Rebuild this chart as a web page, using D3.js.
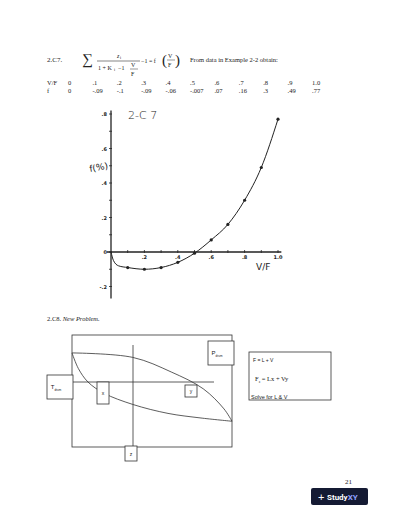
<!DOCTYPE html>
<html><head><meta charset="utf-8">
<script src="https://cdn.jsdelivr.net/npm/d3@7"></script>
<style>
body{margin:0;background:#fff}
svg{display:block}
text{font-family:"Liberation Serif",serif;fill:#222}
</style></head>
<body><svg id="page" width="400" height="518"></svg>
<script>
// Table values from "Example 2-2"
var vfLabels = ["0", ".1", ".2", ".3", ".4", ".5", ".6", ".7", ".8", ".9", "1.0"];
var fLabels = ["0", "-.09", "-.1", "-.09", "-.06", "-.007", ".07", ".16", ".3", ".49", ".77"];
var vfValues = [0, 0.1, 0.2, 0.3, 0.4, 0.5, 0.6, 0.7, 0.8, 0.9, 1.0];
var fValues = [0, -0.09, -0.1, -0.09, -0.06, -0.007, 0.07, 0.16, 0.3, 0.49, 0.77];
var yTickLabels = [-0.2, 0.2, 0.4, 0.6, 0.8];
var xTickLabels = [0.2, 0.4, 0.6, 0.8, 1.0];
// T-x-y sketch curves (fraction of box width, fraction of box height)
var dewCurve = [[0, 0.16], [0.38, 0.2], [0.62, 0.33], [0.82, 0.48], [0.95, 0.66], [1, 0.77]];
var bubbleCurve = [[0, 0.16], [0.04, 0.3], [0.1, 0.42], [0.2, 0.52], [0.38, 0.62], [0.6, 0.7], [0.8, 0.74], [1, 0.77]];
var notes = ["F = L + V", "Solve for L & V"];

var svg = d3.select("#page");

// ---- header line ----
svg.append("text").attr("x", 47).attr("y", 62).attr("font-size", 7).text("2.C7.");
svg.append("text").attr("x", 82).attr("y", 64).attr("font-size", 15).text("\u2211");
svg.append("text").attr("x", 117).attr("y", 58).attr("font-size", 6).attr("font-style", "italic").text("z");
svg.append("text").attr("x", 120).attr("y", 59).attr("font-size", 4).text("i");
svg.append("line").attr("x1", 97).attr("x2", 140).attr("y1", 61).attr("y2", 61).attr("stroke", "#333").attr("stroke-width", 0.6);
svg.append("text").attr("x", 98).attr("y", 70).attr("font-size", 6).text("1 +  K");
svg.append("text").attr("x", 114).attr("y", 71).attr("font-size", 4).text("i");
svg.append("text").attr("x", 118).attr("y", 70).attr("font-size", 6).text("\u22121");
svg.append("text").attr("x", 131).attr("y", 67).attr("font-size", 6).text("V");
svg.append("line").attr("x1", 130).attr("x2", 138).attr("y1", 69).attr("y2", 69).attr("stroke", "#333").attr("stroke-width", 0.5);
svg.append("text").attr("x", 131).attr("y", 76).attr("font-size", 6).text("F");
svg.append("text").attr("x", 141).attr("y", 63).attr("font-size", 6).text("\u22121 = f");
svg.append("text").attr("x", 162).attr("y", 65).attr("font-size", 15).attr("font-weight", 100).text("(");
svg.append("text").attr("x", 168).attr("y", 58).attr("font-size", 6).text("V");
svg.append("line").attr("x1", 167).attr("x2", 175).attr("y1", 60).attr("y2", 60).attr("stroke", "#333").attr("stroke-width", 0.5);
svg.append("text").attr("x", 168).attr("y", 67).attr("font-size", 6).text("F");
svg.append("text").attr("x", 175).attr("y", 65).attr("font-size", 15).attr("font-weight", 100).text(")");
svg.append("text").attr("x", 190).attr("y", 62).attr("font-size", 6.5).text("From data in Example 2-2 obtain:");

// ---- table ----
var colX = d3.scalePoint().domain(vfLabels).range([68, 312]);
var tbl = svg.append("g");
tbl.append("text").attr("x", 47).attr("y", 85).attr("font-size", 6.5).text("V/F");
tbl.append("text").attr("x", 47).attr("y", 93).attr("font-size", 6.5).text("f");
vfLabels.forEach(function (d, i) {
    tbl.append("text").attr("x", colX(d)).attr("y", 85).attr("font-size", 6.5).text(d);
    tbl.append("text").attr("x", colX(d)).attr("y", 93).attr("font-size", 6.5).text(fLabels[i]);
});

// ---- hand-drawn plot ----
var x = d3.scaleLinear().domain([0, 1]).range([111, 278]);
var y = d3.scaleLinear().domain([0, 0.8]).range([252, 114]);
var g = svg.append("g").attr("stroke", "#222").attr("fill", "none");
g.append("line").attr("x1", x(0)).attr("x2", x(0)).attr("y1", y(0.82)).attr("y2", y(-0.27)).attr("stroke-width", 1.3);
g.append("line").attr("x1", x(0) - 4).attr("x2", x(1.02)).attr("y1", y(0)).attr("y2", y(0)).attr("stroke-width", 1.3);
d3.range(-0.2, 0.81, 0.1).forEach(function (t) {
    g.append("line").attr("x1", x(0) - 2).attr("x2", x(0) + 1).attr("y1", y(t)).attr("y2", y(t)).attr("stroke-width", 0.8);
});
d3.range(0.1, 1.01, 0.1).forEach(function (t) {
    g.append("line").attr("x1", x(t)).attr("x2", x(t)).attr("y1", y(0) - 2).attr("y2", y(0) + 1).attr("stroke-width", 0.8);
});
var lab = svg.append("g").attr("font-size", 5).attr("font-weight", "bold");
yTickLabels.forEach(function (t) {
    lab.append("text").attr("x", x(0) - 4).attr("y", y(t) + 2).attr("text-anchor", "end").style("font-family", "DejaVu Sans").text(t < 0 ? "-.2" : ("." + Math.round(t * 10)));
});
lab.append("text").attr("x", x(0) - 4).attr("y", y(0) + 2).attr("text-anchor", "end").style("font-family", "DejaVu Sans").text("0");
xTickLabels.forEach(function (t) {
    lab.append("text").attr("x", x(t)).attr("y", y(0) + 7).attr("text-anchor", "middle").style("font-family", "DejaVu Sans").text(t === 1 ? "1.0" : "." + Math.round(t * 10));
});
svg.append("text").attr("x", 128).attr("y", 119).attr("font-size", 11).style("font-family", "DejaVu Sans").attr("font-weight", 300).text("2-C 7");
svg.append("text").attr("x", 90).attr("y", 172).attr("font-size", 9).style("font-family", "DejaVu Sans").attr("transform", "rotate(-10,90,172)").text("f(%)");
svg.append("text").attr("x", 256).attr("y", 270).attr("font-size", 9).style("font-family", "DejaVu Sans").text("V/F");

var pts = vfValues.map(function (v, i) { return [v, fValues[i]]; });
var curvePts = [pts[0], [0.015, -0.05], [0.045, -0.08]].concat(pts.slice(1));
var curve = d3.line().x(function (d) { return x(d[0]); }).y(function (d) { return y(d[1]); }).curve(d3.curveMonotoneX);
g.append("path").attr("d", curve(curvePts)).attr("stroke-width", 1);
svg.selectAll("circle.pt").data(pts.slice(1)).enter().append("circle")
    .attr("cx", function (d) { return x(d[0]); }).attr("cy", function (d) { return y(d[1]); })
    .attr("r", 1.6).attr("fill", "#222");

// ---- 2.C8 ----
svg.append("text").attr("x", 47).attr("y", 321).attr("font-size", 6.5).text("2.C8. ")
    .append("tspan").attr("font-style", "italic").text("New Problem.");

var bx = d3.scaleLinear().domain([0, 1]).range([72, 232]);
var by = d3.scaleLinear().domain([0, 1]).range([335, 447]);
var d8 = svg.append("g").attr("stroke", "#333").attr("fill", "none").attr("stroke-width", 0.8);
d8.append("rect").attr("x", bx(0)).attr("y", by(0)).attr("width", bx(1) - bx(0)).attr("height", by(1) - by(0));
d8.append("line").attr("x1", 133).attr("x2", 133).attr("y1", 345).attr("y2", 446);
d8.append("line").attr("x1", bx(0)).attr("x2", 214).attr("y1", 382).attr("y2", 382);
var cl = d3.line().x(function (d) { return bx(d[0]); }).y(function (d) { return by(d[1]); }).curve(d3.curveCatmullRom);
d8.append("path").attr("d", cl(dewCurve));
d8.append("path").attr("d", cl(bubbleCurve));

function box(x0, y0, w, h, t, sub, fs) {
    d8.append("rect").attr("x", x0).attr("y", y0).attr("width", w).attr("height", h).attr("fill", "#fff");
    var tx = svg.append("text").attr("x", x0 + w / 2 - (sub ? 4 : 0)).attr("y", y0 + h / 2 + 2).attr("font-size", fs)
        .attr("text-anchor", "middle").style("font-family", "Liberation Sans").text(t);
    if (sub) tx.append("tspan").attr("font-size", 3).attr("dy", 1.5).text(sub);
}
box(47, 375, 26, 24, "T", "drum", 6);
box(208, 341, 26, 24, "P", "drum", 6);
box(97, 382, 12, 22, "x", null, 5);
box(185, 385, 12, 12, "y", null, 5);
box(125, 446, 12, 15, "z", null, 5);
d8.append("rect").attr("x", 249).attr("y", 352).attr("width", 82).attr("height", 48);
svg.append("text").attr("x", 253).attr("y", 362).attr("font-size", 5).style("font-family", "Liberation Sans").text(notes[0]);
var fz = svg.append("text").attr("x", 255).attr("y", 381).attr("font-size", 6.5).text("F");
fz.append("tspan").attr("font-size", 3.5).attr("dy", 1.5).text("z");
fz.append("tspan").attr("dy", -1.5).text(" = Lx + Vy");
svg.append("defs").append("clipPath").attr("id", "cp").append("rect").attr("x", 249).attr("y", 352).attr("width", 82).attr("height", 47.5);
svg.append("text").attr("x", 251).attr("y", 399).attr("font-size", 5.5).style("font-family", "Liberation Sans")
    .attr("clip-path", "url(#cp)").text(notes[1]);

// footer
svg.append("text").attr("x", 345).attr("y", 484).attr("font-size", 7).text("21");
var badge = svg.append("g");
badge.append("rect").attr("x", 311).attr("y", 488).attr("width", 57).attr("height", 17).attr("rx", 2).attr("fill", "#141a33");
badge.append("text").attr("x", 318).attr("y", 500.5).attr("font-size", 11).style("font-family", "Liberation Sans").style("fill", "#fff").attr("font-weight", 300).text("+");
badge.append("text").attr("x", 327).attr("y", 500).attr("font-size", 8).style("font-family", "Roboto").attr("font-weight", "bold").style("fill", "#fff").text("Study")
    .append("tspan").style("fill", "#8fa0ff").text("XY");
</script></body></html>
